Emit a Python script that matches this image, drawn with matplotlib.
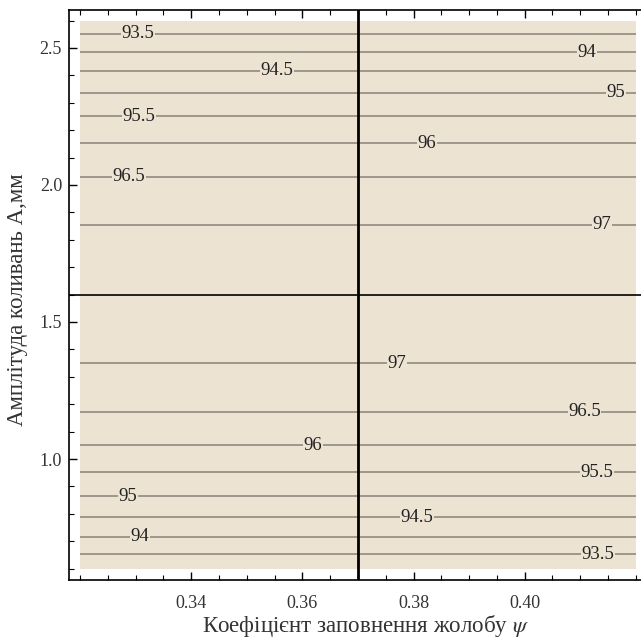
import matplotlib
matplotlib.use("Agg")
import matplotlib.pyplot as plt
from matplotlib.ticker import MultipleLocator, FixedLocator, FixedFormatter

# ---- data ----
levels_upper = [93.5, 94.0, 94.5, 95.0, 95.5, 96.0, 96.5, 97.0]
amp_upper = [2.551, 2.484, 2.416, 2.337, 2.251, 2.152, 2.030, 1.854]
levels_lower = [97.0, 96.5, 96.0, 95.5, 95.0, 94.5, 94.0, 93.5]
amp_lower = [1.349, 1.173, 1.051, 0.951, 0.865, 0.787, 0.716, 0.653]

# label texts and their psi positions
label_text_upper = ["93.5", "94.5", "95.5", "96.5", "94", "95", "96", "97"]
label_psi_upper = [0.3304, 0.3554, 0.3306, 0.3288, 0.4112, 0.4164, 0.3824, 0.4139]
label_text_lower = ["96", "95", "94", "97", "96.5", "95.5", "94.5", "93.5"]
label_psi_lower = [0.3619, 0.3286, 0.3308, 0.3770, 0.4108, 0.4130, 0.3806, 0.4132]

psi_range = [0.32, 0.42]
amp_range = [0.6, 2.6]
psi_opt = 0.37
amp_opt = 1.6

x_ticks = [0.34, 0.36, 0.38, 0.40]
x_ticklabels = ["0.34", "0.36", "0.38", "0.40"]
y_ticks = [1.0, 1.5, 2.0, 2.5]
y_ticklabels = ["1.0", "1.5", "2.0", "2.5"]

plt.rcParams['font.family'] = ['Liberation Serif', 'DejaVu Serif']
plt.rcParams['mathtext.fontset'] = 'stix'

fig = plt.figure(figsize=(6.41, 6.40), dpi=100)
ax = fig.add_axes([0.1076, 0.0944, 0.9017, 0.8906])

fill_color = "#ede3d3"
line_color = "#8f8a80"

ax.fill_between(psi_range, amp_range[0], amp_range[1], color=fill_color, lw=0, zorder=0)

all_amp = amp_upper + amp_lower
ax.hlines(all_amp, psi_range[0], psi_range[1], colors=line_color, lw=1.2, zorder=1)

lev_to_amp_up = {("%g" % l): a for l, a in zip(levels_upper, amp_upper)}
lev_to_amp_lo = {("%g" % l): a for l, a in zip(levels_lower, amp_lower)}
for t, px in zip(label_text_upper, label_psi_upper):
    ax.text(px, lev_to_amp_up[t], t, ha="center", va="center", fontsize=13.5,
            color="#222222", zorder=3,
            bbox=dict(facecolor=fill_color, edgecolor="none", pad=0.3))
for t, px in zip(label_text_lower, label_psi_lower):
    ax.text(px, lev_to_amp_lo[t], t, ha="center", va="center", fontsize=13.5,
            color="#222222", zorder=3,
            bbox=dict(facecolor=fill_color, edgecolor="none", pad=0.3))

ax.axvline(psi_opt, color="black", lw=2.0, zorder=4)
ax.axhline(amp_opt, color="black", lw=1.2, zorder=4)

ax.set_xlim(0.318, 0.422)
ax.set_ylim(0.56, 2.64)

ax.xaxis.set_major_locator(FixedLocator(x_ticks))
ax.xaxis.set_major_formatter(FixedFormatter(x_ticklabels))
ax.xaxis.set_minor_locator(MultipleLocator(0.005))
ax.yaxis.set_major_locator(FixedLocator(y_ticks))
ax.yaxis.set_major_formatter(FixedFormatter(y_ticklabels))
ax.yaxis.set_minor_locator(MultipleLocator(0.1))

ax.tick_params(which="both", direction="in", top=True, right=False,
               colors="black", labelcolor="#333333", labelsize=13)
ax.tick_params(which="major", length=6, width=1)
ax.tick_params(which="minor", length=3.5, width=0.8)
ax.tick_params(axis="x", pad=11)
ax.tick_params(axis="y", pad=5)

for s in ["left", "bottom", "top"]:
    ax.spines[s].set_linewidth(1.2)
ax.spines["right"].set_visible(False)

fig.text(366 / 641, 1 - 632 / 640, "Коефіцієнт заповнення жолобу $\\psi$",
         fontsize=16.5, color="#333333", ha="center", va="baseline")
fig.text(18 / 641, 1 - 300 / 640, "Амплітуда коливань А,мм", rotation=90,
         fontsize=16.5, color="#333333", ha="center", va="center")

fig.savefig("out.png", dpi=100, facecolor="white")
